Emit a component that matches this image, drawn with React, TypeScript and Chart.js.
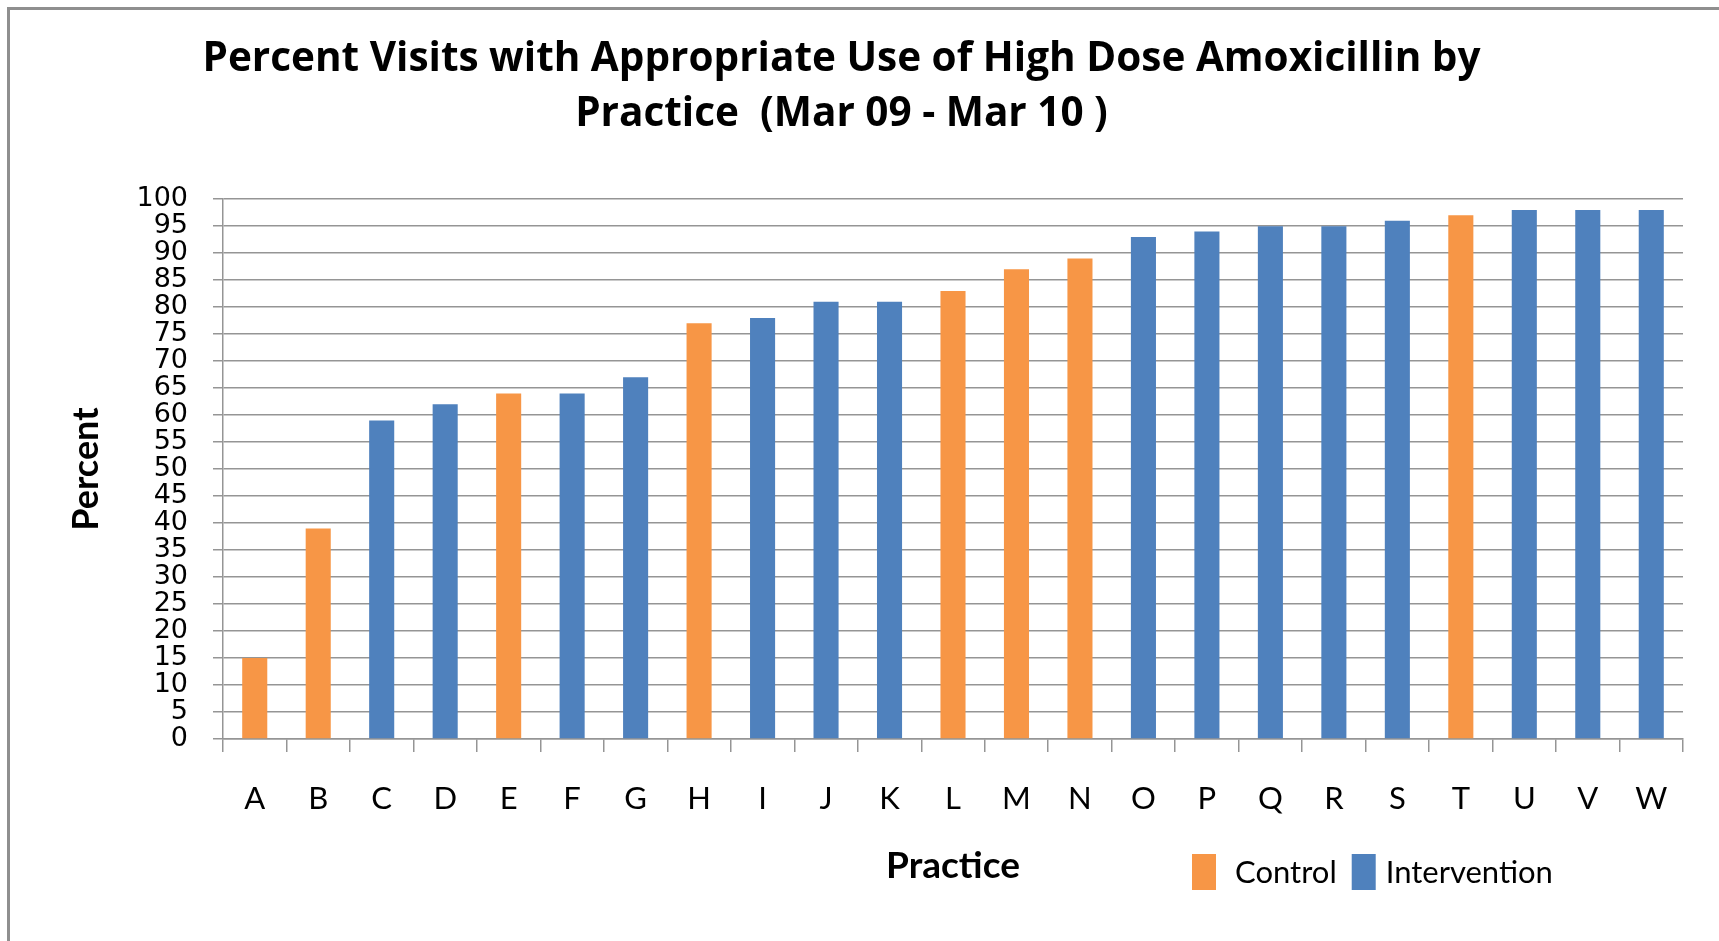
import React, { useEffect, useRef } from "react";
import { Chart, registerables } from "chart.js";

Chart.register(...registerables);

const practices = ["A", "B", "C", "D", "E", "F", "G", "H", "I", "J", "K", "L", "M", "N", "O", "P", "Q", "R", "S", "T", "U", "V", "W"];
const percentValues = [15, 39, 59, 62, 64, 64, 67, 77, 78, 81, 81, 83, 87, 89, 93, 94, 95, 95, 96, 97, 98, 98, 98];
const practiceGroups = ["Control", "Control", "Intervention", "Intervention", "Control", "Intervention", "Intervention", "Control", "Intervention", "Intervention", "Intervention", "Control", "Control", "Control", "Intervention", "Intervention", "Intervention", "Intervention", "Intervention", "Control", "Intervention", "Intervention", "Intervention"];
const seriesNames = ["Control", "Intervention"];
const seriesColors = ["#F79646", "#4F81BD"];
const titleLines = ["Percent Visits with Appropriate Use of High Dose Amoxicillin by", "Practice  (Mar 09 - Mar 10 )"];
const yAxisTitle = "Percent";
const xAxisTitle = "Practice";

const GRID = "#959595";

const legendPlugin = {
  id: "customLegend",
  afterDraw(chart: any) {
    const ctx = chart.ctx;
    ctx.save();
    ctx.font = "31px Lato";
    ctx.textBaseline = "middle";
    ctx.fillStyle = "#000";
    let x = 1192;
    const rectTop = 854;
    const rectH = 36;
    const rectW = 24;
    const gaps = [19, 10];
    const after = [15, 0];
    seriesNames.forEach((name, i) => {
      ctx.fillStyle = seriesColors[i];
      ctx.fillRect(x, rectTop, rectW, rectH);
      x += rectW + gaps[i];
      ctx.fillStyle = "#000";
      ctx.fillText(name, x, 873);
      x += ctx.measureText(name).width + after[i];
    });
    ctx.restore();
  },
};

export default function App() {
  const canvasRef = useRef<HTMLCanvasElement | null>(null);

  useEffect(() => {
    document.body.style.margin = "0";
    document.body.style.overflow = "hidden";
    const canvas = canvasRef.current;
    if (!canvas) return;
    const datasets = seriesNames.map((name, si) => ({
      label: name,
      data: percentValues.map((v, i) => (practiceGroups[i] === name ? v : null)),
      backgroundColor: seriesColors[si],
      borderWidth: 0,
      grouped: false,
      barPercentage: 0.395,
      categoryPercentage: 1,
    }));
    const chart = new Chart(canvas, {
      type: "bar",
      data: { labels: practices, datasets },
      plugins: [legendPlugin],
      options: {
        animation: false,
        responsive: false,
        maintainAspectRatio: false,
        layout: { padding: { left: 0, right: 36, top: 0, bottom: 0 } },
        plugins: {
          legend: { display: false },
          tooltip: { enabled: false },
          title: {
            display: true,
            text: titleLines,
            color: "#000",
            font: { family: "Open Sans", size: 40.5, weight: "bold", lineHeight: 1.36 },
            padding: { top: 32, bottom: 57 },
          },
        },
        scales: {
          x: {
            offset: true,
            afterFit(scale: any) {
              scale.height = 202;
            },
            grid: {
              display: true,
              offset: true,
              drawOnChartArea: false,
              drawTicks: true,
              tickLength: 13,
              color: GRID,
              lineWidth: 1.5,
            },
            border: { display: true, color: GRID, width: 1.5 },
            ticks: {
              color: "#000",
              font: { family: "Lato", size: 31 },
              padding: 28,
              maxRotation: 0,
              autoSkip: false,
            },
            title: {
              display: true,
              text: xAxisTitle,
              color: "#000",
              font: { family: "Lato", size: 37, weight: "bold" },
              padding: { top: 0, bottom: 53 },
            },
          },
          y: {
            min: 0,
            max: 100,
            afterFit(scale: any) {
              scale.width = 223;
            },
            grid: {
              color: GRID,
              lineWidth: 1.5,
              drawTicks: true,
              tickLength: 10,
            },
            border: { display: true, color: GRID, width: 1.5 },
            ticks: {
              stepSize: 5,
              autoSkip: false,
              color: "#000",
              font: { family: "DejaVu Sans", size: 27 },
              padding: 25,
            },
            title: {
              display: true,
              text: yAxisTitle,
              color: "#000",
              font: { family: "Lato", size: 36, weight: "bold" },
              padding: { top: 65, bottom: 0 },
            },
          },
        },
      },
    } as any);
    return () => chart.destroy();
  }, []);

  return (
    <div style={{ position: "relative", width: 1719, height: 941, overflow: "hidden", background: "#fff" }}>
      <div
        style={{
          position: "absolute",
          left: 7,
          top: 7,
          width: 1719,
          height: 941,
          borderLeft: "3px solid #8f8f8f",
          borderTop: "3px solid #8f8f8f",
        }}
      />
      <canvas ref={canvasRef} width={1719} height={941} style={{ position: "absolute", left: 0, top: 0, width: 1719, height: 941 }} />
    </div>
  );
}
